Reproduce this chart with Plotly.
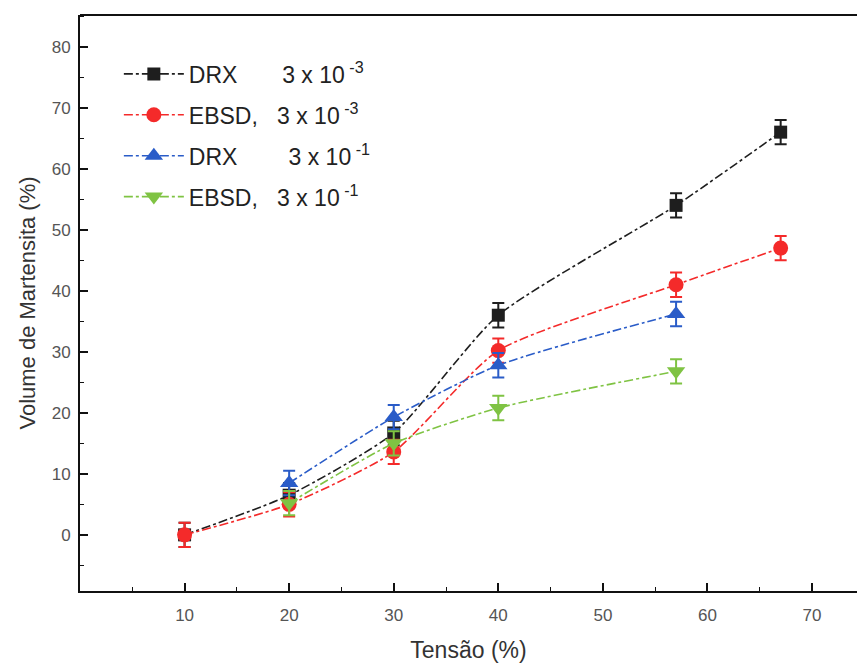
import plotly.graph_objects as go

# Data
x_drx_slow = [10, 20, 30, 40, 57, 67]
y_drx_slow = [0, 6.5, 16.7, 36, 54, 66]
e_drx_slow = [2, 2, 2, 2, 2, 2]

x_ebsd_slow = [10, 20, 30, 40, 57, 67]
y_ebsd_slow = [0, 5, 13.6, 30.2, 41, 47]
e_ebsd_slow = [2, 2, 2, 2, 2, 2]

x_drx_fast = [20, 30, 40, 57]
y_drx_fast = [8.5, 19.3, 27.8, 36.2]
e_drx_fast = [2, 2, 2, 2]

x_ebsd_fast = [20, 30, 40, 57]
y_ebsd_fast = [5.2, 15, 20.8, 26.8]
e_ebsd_fast = [2, 2, 2, 2]

names = ["DRX&nbsp;&nbsp;&nbsp;&nbsp;&nbsp;&nbsp;&nbsp;3 x 10<sup> -3</sup>",
         "EBSD,&nbsp;&nbsp;&nbsp;3 x 10<sup> -3</sup>",
         "DRX&nbsp;&nbsp;&nbsp;&nbsp;&nbsp;&nbsp;&nbsp;&nbsp;3 x 10<sup> -1</sup>",
         "EBSD,&nbsp;&nbsp;&nbsp;3 x 10<sup> -1</sup>"]

series = [
    (x_drx_slow, y_drx_slow, e_drx_slow, "#1e1e1e", "square", 13),
    (x_ebsd_slow, y_ebsd_slow, e_ebsd_slow, "#f42a2a", "circle", 15),
    (x_drx_fast, y_drx_fast, e_drx_fast, "#2a5cc8", "triangle-up", 16),
    (x_ebsd_fast, y_ebsd_fast, e_ebsd_fast, "#7fc343", "triangle-down", 16),
]

fig = go.Figure()
for i, (xs, ys, es, c, sym, sz) in enumerate(series):
    fig.add_trace(go.Scatter(
        x=xs, y=ys, name=names[i], mode="lines+markers",
        legendgroup=str(i),
        line=dict(color=c, width=1.6, dash="dashdot", shape="spline", smoothing=0.6),
        marker=dict(symbol=sym, size=sz, color=c, line=dict(width=0)),
        error_y=dict(type="data", array=es, visible=True, color=c, thickness=2, width=6),
    ))

axis_common = dict(
    showline=True, linecolor="#111", linewidth=2, ticks="inside",
    ticklen=8, tickwidth=1.5, tickcolor="#111", showgrid=False, zeroline=False,
    tickfont=dict(family="Liberation Sans, Arial", size=17, color="#555"),
    minor=dict(ticks="inside", ticklen=4, tickwidth=1.2, tickcolor="#111", dtick=5),
)

fig.update_xaxes(range=[0, 74.3], tickvals=[10, 20, 30, 40, 50, 60, 70],
                 ticklabelstandoff=8,
                 title=dict(text="Tensão (%)", font=dict(family="Liberation Sans, Arial", size=23, color="#333"), standoff=17),
                 **axis_common)
fig.update_yaxes(range=[-9.2, 85.2], tickvals=[0, 10, 20, 30, 40, 50, 60, 70, 80],
                 ticklabelstandoff=4,
                 title=dict(text="Volume de Martensita (%)", font=dict(family="Liberation Sans, Arial", size=22, color="#333"), standoff=10),
                 **axis_common)

fig.add_shape(type="line", xref="paper", yref="paper", x0=0, x1=1, y0=1, y1=1,
              line=dict(color="#111", width=2))

fig.update_layout(
    width=857, height=665,
    margin=dict(l=80, r=0, t=15, b=74),
    paper_bgcolor="white", plot_bgcolor="white",
    showlegend=True,
    legend=dict(x=0.05, y=0.935, xanchor="left", yanchor="top",
                font=dict(family="Liberation Sans, Arial", size=23, color="#222"),
                bgcolor="rgba(0,0,0,0)", tracegroupgap=8, itemwidth=60),
)

fig.write_html("out.html")
